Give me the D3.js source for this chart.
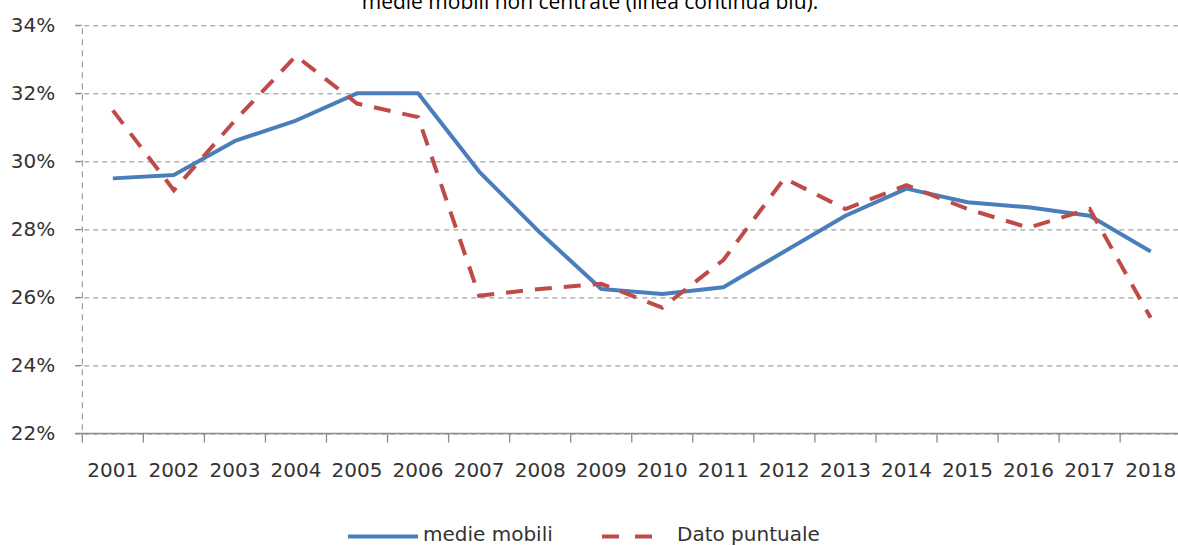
<!DOCTYPE html>
<html>
<head>
<meta charset="utf-8">
<script src="https://cdn.jsdelivr.net/npm/d3@7"></script>
<style>
  body { margin: 0; background: #fff; }
  svg { display: block; }
</style>
</head>
<body>
<script>
// Data
const years = ["2001","2002","2003","2004","2005","2006","2007","2008","2009",
               "2010","2011","2012","2013","2014","2015","2016","2017","2018"];
const medieMobili = [29.5, 29.6, 30.6, 31.2, 32.0, 32.0, 29.7, 27.9, 26.25,
                     26.1, 26.3, 27.35, 28.4, 29.2, 28.8, 28.65, 28.4, 27.35];
const datoPuntuale = [31.5, 29.15, 31.2, 33.1, 31.7, 31.3, 26.05, 26.25, 26.4,
                      25.7, 27.1, 29.5, 28.6, 29.3, 28.6, 28.05, 28.6, 25.4];
const yTicks = [22, 24, 26, 28, 30, 32, 34];
const seriesNames = ["medie mobili", "Dato puntuale"];
const titleText = "medie mobili non centrate (linea continua blu).";

// Variables
const width = 1178;
const height = 546;
const plotLeft = 82.3;
const bandW = 61.05;
const plotTop = 25.3;
const plotBottom = 433.5;
const blue = "#4A7EBB";
const red = "#BE4B48";
const gridColor = "#8a8a8a";
const font = "'DejaVu Sans', Verdana, sans-serif";

const svg = d3.select("body")
  .append("svg")
  .attr("width", width)
  .attr("height", height);

const x = d3.scaleBand()
  .domain(years)
  .range([plotLeft, plotLeft + bandW * years.length]);

const y = d3.scaleLinear()
  .domain([22, 34])
  .range([plotBottom, plotTop]);

// Title (partly cut off at the top, as in the source)
svg.append("text")
  .attr("x", 590)
  .attr("y", 9)
  .attr("text-anchor", "middle")
  .attr("font-family", "'Open Sans', sans-serif")
  .attr("font-size", 21)
  .attr("fill", "#000")
  .text(titleText);

// Horizontal gridlines + y labels
svg.append("g")
  .attr("transform", `translate(${plotLeft},0)`)
  .call(d3.axisLeft(y)
    .tickValues(yTicks)
    .tickSize(-(width - plotLeft + 10))
    .tickSizeOuter(0)
    .tickPadding(27)
    .tickFormat(d => d + "%"))
  .call(g => g.select(".domain").remove())
  .call(g => g.selectAll(".tick line")
    .attr("x1", -7)
    .attr("stroke", gridColor)
    .attr("stroke-dasharray", "5,4"))
  .call(g => g.selectAll(".tick text")
    .attr("font-family", font)
    .attr("font-size", 20)
    .attr("fill", "#333")
    .attr("dy", "0.3em"));

// solid tick stubs left of the axis
svg.append("g")
  .selectAll("line")
  .data(yTicks)
  .join("line")
  .attr("x1", plotLeft - 7)
  .attr("x2", plotLeft)
  .attr("y1", d => y(d))
  .attr("y2", d => y(d))
  .attr("stroke", gridColor);

// Dashed vertical y axis
svg.append("line")
  .attr("x1", plotLeft).attr("x2", plotLeft)
  .attr("y1", plotTop + 3).attr("y2", plotBottom)
  .attr("stroke", gridColor)
  .attr("stroke-dasharray", "6,5");

// X axis
const boundaries = d3.range(years.length + 1).map(i => plotLeft + i * bandW);
svg.append("line")
  .attr("x1", plotLeft - 7).attr("x2", width)
  .attr("y1", plotBottom).attr("y2", plotBottom)
  .attr("stroke", gridColor)
  .attr("stroke-width", 1.3);

svg.append("g")
  .selectAll("line")
  .data(boundaries)
  .join("line")
  .attr("x1", d => d).attr("x2", d => d)
  .attr("y1", plotBottom).attr("y2", plotBottom + 9)
  .attr("stroke", gridColor)
  .attr("stroke-width", 1.3);

svg.append("g")
  .attr("transform", `translate(0,${plotBottom})`)
  .call(d3.axisBottom(x).tickSize(0).tickPadding(0))
  .call(g => g.select(".domain").remove())
  .call(g => g.selectAll(".tick text")
    .attr("font-family", font)
    .attr("font-size", 20)
    .attr("fill", "#333")
    .attr("dy", null)
    .attr("y", 43));

// Lines
const line = d3.line()
  .x((d, i) => x(years[i]) + x.bandwidth() / 2)
  .y(d => y(d));

svg.append("path")
  .datum(medieMobili)
  .attr("d", line)
  .attr("fill", "none")
  .attr("stroke", blue)
  .attr("stroke-width", 4)
  .attr("stroke-linejoin", "round");

svg.append("path")
  .datum(datoPuntuale)
  .attr("d", line)
  .attr("fill", "none")
  .attr("stroke", red)
  .attr("stroke-width", 4)
  .attr("stroke-dasharray", "17,12");

// Legend
const legend = svg.append("g");
legend.append("line")
  .attr("x1", 348).attr("x2", 418)
  .attr("y1", 536.5).attr("y2", 536.5)
  .attr("stroke", blue)
  .attr("stroke-width", 4);
legend.append("text")
  .attr("x", 423).attr("y", 541)
  .attr("font-family", font)
  .attr("font-size", 20)
  .attr("fill", "#333")
  .text(seriesNames[0]);
legend.append("line")
  .attr("x1", 602).attr("x2", 652)
  .attr("y1", 536.5).attr("y2", 536.5)
  .attr("stroke", red)
  .attr("stroke-width", 4)
  .attr("stroke-dasharray", "17,16");
legend.append("text")
  .attr("x", 677).attr("y", 541)
  .attr("font-family", font)
  .attr("font-size", 20)
  .attr("fill", "#333")
  .text(seriesNames[1]);
</script>
</body>
</html>
